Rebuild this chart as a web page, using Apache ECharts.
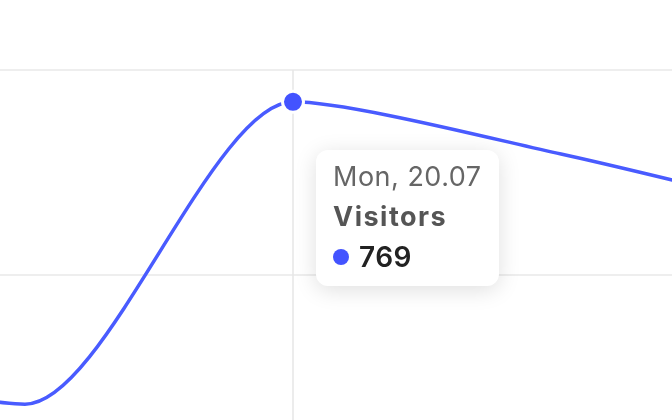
<!DOCTYPE html>
<html>
<head>
<meta charset="utf-8">
<script src="https://cdn.jsdelivr.net/npm/echarts@6/dist/echarts.min.js"></script>
<style>
html,body{margin:0;padding:0;background:#fff;overflow:hidden;width:672px;height:420px;position:relative;}
#c{position:absolute;left:-243px;top:0;width:1072px;height:480px;}
</style>
</head>
<body>
<div id="c"></div>
<script>
const categories = ['Sat, 18.07', 'Sun, 19.07', 'Mon, 20.07', 'Tue, 21.07', 'Wed, 22.07'];
const visitors = [520, 474, 769, 718, 655];
const seriesName = 'Visitors';
const yMin = 400, yMax = 800, yStep = 200;
const activeIndex = 2;

const blue = '#4353ff';
const chart = echarts.init(document.getElementById('c'), null, {renderer: 'canvas'});
chart.setOption({
  animation: false,
  grid: {left: 0, right: 0, top: 70, bottom: 0},
  xAxis: {
    type: 'category', data: categories, boundaryGap: false,
    axisLine: {show: false}, axisTick: {show: false}, axisLabel: {show: false},
    splitLine: {show: false}
  },
  yAxis: {
    type: 'value', min: yMin, max: yMax, interval: yStep,
    axisLine: {show: false}, axisTick: {show: false}, axisLabel: {show: false},
    splitLine: {show: true, lineStyle: {color: '#e9e9e9', width: 1.5}}
  },
  tooltip: {
    trigger: 'axis',
    alwaysShowContent: true,
    transitionDuration: 0,
    position: [559, 150],
    backgroundColor: '#ffffff',
    borderWidth: 0,
    padding: [7, 17, 9, 17],
    extraCssText: 'border-radius:12px;box-shadow:0 4px 22px rgba(0,0,0,0.13);',
    axisPointer: {type: 'line', z: 1, lineStyle: {color: '#e6e6e6', width: 1.5, type: 'solid'}},
    formatter: function (params) {
      const p = params[0];
      return '<div style="font-family:Inter,sans-serif;line-height:40px;white-space:nowrap;">' +
        '<div style="font-size:27px;color:#666;font-weight:400;letter-spacing:0.5px;">' + p.name + '</div>' +
        '<div style="font-size:27px;color:#555;font-weight:700;letter-spacing:1.5px;">' + p.seriesName + '</div>' +
        '<div style="font-size:28px;color:#222;font-weight:600;letter-spacing:0.5px;display:flex;align-items:center;">' +
        '<span style="display:inline-block;width:16px;height:16px;border-radius:8px;background:' + blue + ';margin-right:10px;"></span>' +
        p.value + '</div></div>';
    }
  },
  series: [{
    name: seriesName,
    type: 'line',
    z: 3,
    data: visitors,
    smooth: 0.25,
    showSymbol: false,
    symbol: 'circle',
    symbolSize: 21,
    lineStyle: {color: blue, width: 3.5},
    itemStyle: {color: blue, borderColor: '#fff', borderWidth: 3},
    emphasis: {scale: false, lineStyle: {width: 3.5}, itemStyle: {color: blue, borderColor: '#fff', borderWidth: 3}}
  }]
});
chart.dispatchAction({type: 'showTip', seriesIndex: 0, dataIndex: activeIndex});
</script>
</body>
</html>
